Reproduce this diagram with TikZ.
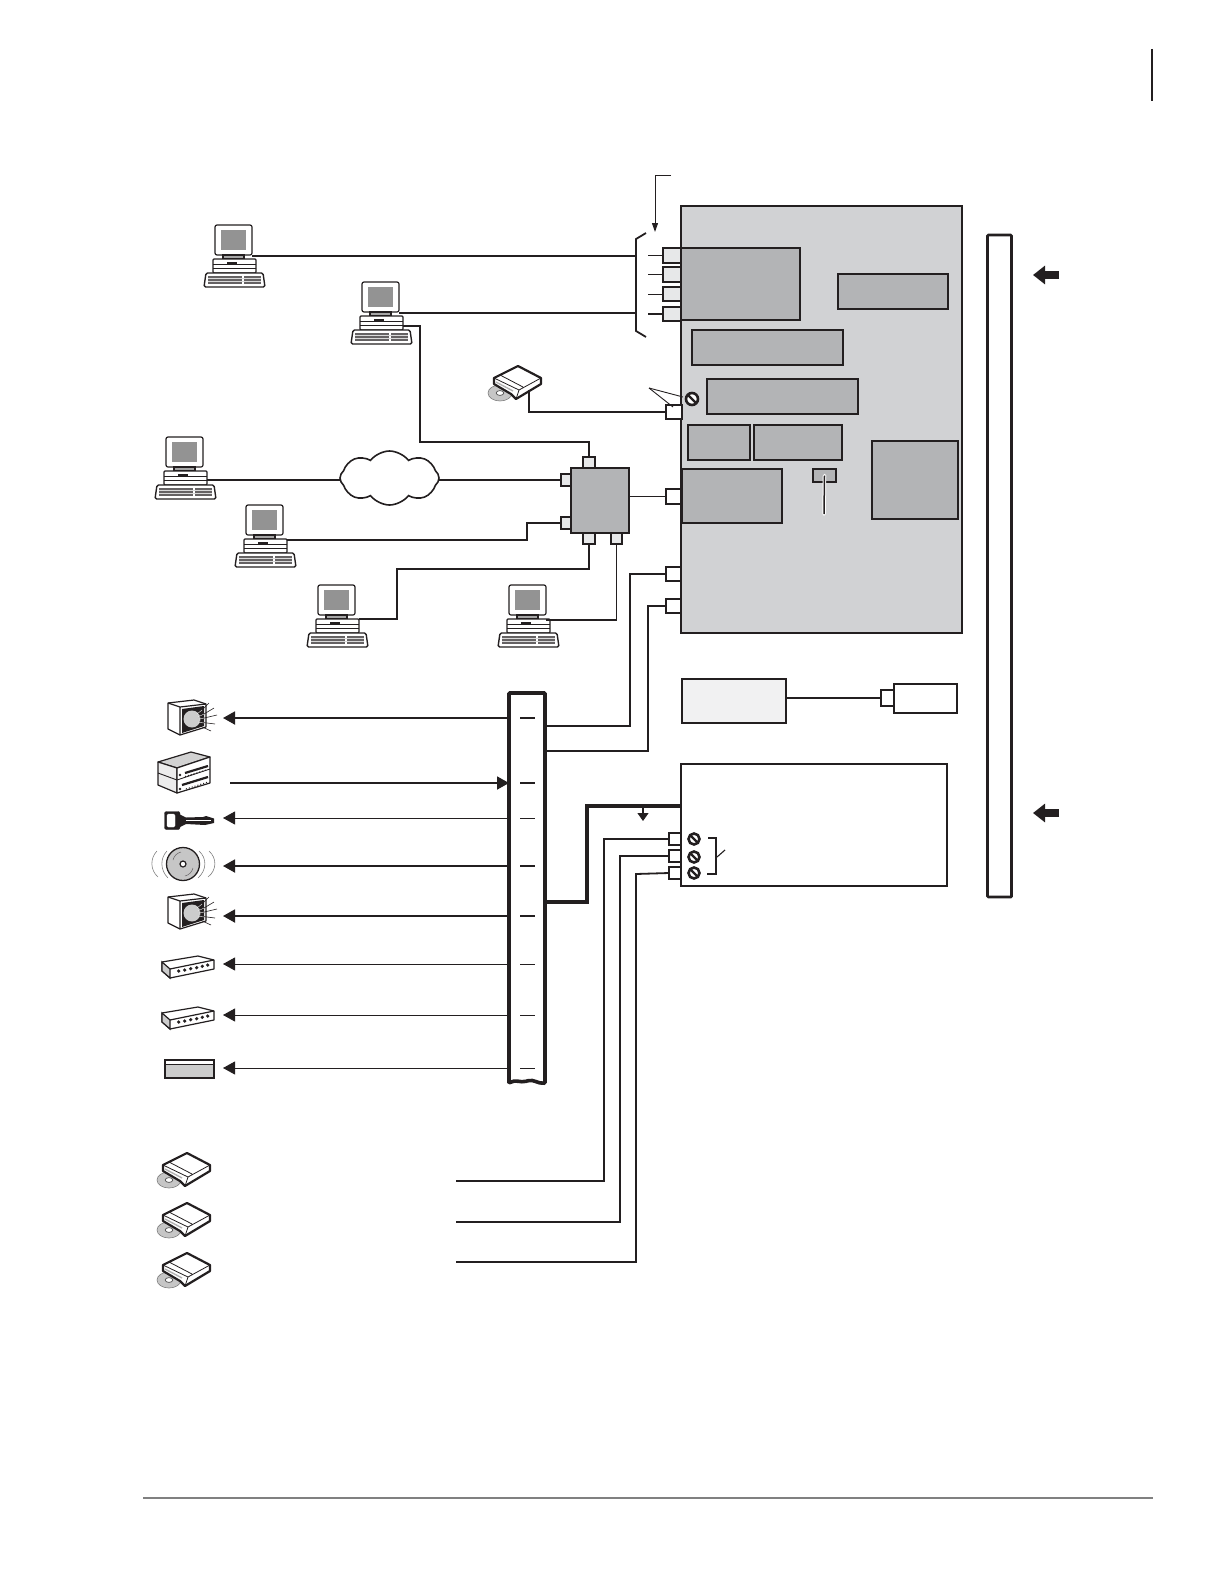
\documentclass[tikz,border=0pt]{standalone}
\usepackage{tikz}
\usetikzlibrary{arrows.meta,shapes.symbols}

\definecolor{panelgray}{HTML}{D1D2D4}
\definecolor{blockgray}{HTML}{B3B4B6}
\definecolor{portgray}{HTML}{E7E8E9}
\definecolor{ink}{HTML}{231F20}

\tikzset{
  blk/.style={draw=ink, line width=1.8pt, inner sep=0pt, outer sep=0pt, anchor=north west},
  panel/.style={blk, fill=panelgray},
  block/.style={blk, fill=blockgray},
  port/.style={blk, fill=portgray},
  wport/.style={blk, fill=white},
  screw/.style={circle, draw=ink, fill=white, line width=2.6pt, minimum size=11pt, inner sep=0pt, outer sep=0pt},
  wire/.style={draw=ink, line width=1.8pt},
  slim/.style={draw=ink, line width=.9pt},
  heavy/.style={draw=ink, line width=3.6pt},
  arr/.style={wire, -{Triangle[length=12pt,width=13pt]}},
  arrslim/.style={slim, -{Triangle[length=12pt,width=13pt]}},
  blockarr/.style={draw=ink, line width=8pt, -{Triangle[length=12pt,width=18pt]}},
  pics/pc/.style={code={
    \draw[ink, line width=1.2pt, fill=white, rounded corners=2pt] (0,0) rectangle (37,30);
    \fill[gray!85!white] (6,5) rectangle (31,25);
    \draw[ink, line width=1.2pt, fill=gray!70] (8,30) rectangle (29,34);
    \draw[ink, line width=1.2pt, fill=white, rounded corners=1pt] (-2,34) rectangle (41,48);
    \draw[ink, line width=.8pt] (-2,39) -- (41,39) (-2,43) -- (41,43);
    \draw[ink, line width=1.2pt] (12,38) -- (22,38);
    \draw[ink, line width=1.4pt, fill=white, rounded corners=1.5pt] (-9,48) -- (48,48) -- (50,62) -- (-11,62) -- cycle;
    \fill[ink!70] (-7,50.5) rectangle (27,58.5);
    \fill[ink!70] (29,50.5) rectangle (46,58.5);
    \draw[white!70!gray, line width=.35pt] (-7,53) -- (46,53) (-7,56) -- (46,56);
    \coordinate (-top) at (37,31);
    \coordinate (-base) at (41,44);
    \coordinate (-low) at (41,55);
  }},
  pics/drive/.style={code={
    \draw[gray, fill=gray!45, line width=.6pt] (-18,27) ellipse (12 and 8);
    \draw[gray!60!black, fill=white, line width=.7pt] (-18,27) ellipse (3.8 and 2.4);
    \draw[ink, line width=2.2pt, fill=white, line join=round] (0,0) -- (23,12) -- (23,18) -- (-2,33) -- (-7,28) -- (-24,18) -- (-24,12) -- cycle;
    \draw[ink, line width=.8pt] (-24,12) -- (1,24) -- (23,12) (1,24) -- (-2,33) (-18,9) -- (5,21);
    \draw[gray!60, line width=1.4pt] (-22,16) -- (-5,25);
    \coordinate (-lead) at (11,24);
  }},
  pics/speaker/.style={code={
    \draw[ink, line width=1.2pt, fill=white, line join=round] (0,0) -- (26,-3) -- (38,1) -- (38,24) -- (12,32) -- (0,26) -- cycle;
    \draw[ink, line width=1.2pt] (0,0) -- (12,4) -- (38,1) (12,4) -- (12,32);
    \fill[ink] (14,6) -- (36,3) -- (36,23) -- (14,30) -- cycle;
    \fill[gray!40] (24,16) circle (8.5);
    \draw[ink, line width=.6pt] (30,11) -- (41,0) (31,14) -- (46,5) (32,16) -- (49,12) (31,19) -- (47,21) (30,22) -- (43,28);
    \draw[white, line width=.4pt] (29,11) -- (34,7) (30,14) -- (36,11) (31,16) -- (36,15) (30,19) -- (36,20);
  }},
  pics/amp/.style={code={
    \draw[ink, line width=1.2pt, fill=gray!35, line join=round] (0,0) -- (33,-10) -- (52,-5) -- (19,6) -- cycle;
    \draw[ink, line width=1.2pt, fill=gray!15, line join=round] (0,0) -- (19,6) -- (19,31) -- (0,23) -- cycle;
    \draw[ink, line width=1.2pt, fill=white, line join=round] (19,6) -- (52,-5) -- (52,21) -- (19,31) -- cycle;
    \draw[ink, line width=.9pt] (0,11) -- (19,18) -- (52,7);
    \draw[ink, line width=2.2pt] (27,11) -- (50,4) (24,23) -- (50,15);
    \draw[ink, line width=1pt, dotted] (27,14.5) -- (50,7.5) (28,27) -- (50,20);
    \fill[ink] (22,13) circle (1.4) (22,27) circle (1.4);
  }},
  pics/hubbox/.style={code={
    \draw[ink, line width=1.2pt, fill=white, line join=round] (0,0) -- (36,-6) -- (52,-2) -- (52,7) -- (8,16) -- (0,9) -- cycle;
    \draw[ink, line width=1.2pt, fill=gray!40] (0,0) -- (8,7) -- (8,16) -- (0,9) -- cycle;
    \draw[ink, line width=1.2pt] (8,7) -- (52,-2);
    \fill[ink] (16.7,9) circle (1.8) (22.7,8) circle (1.8) (28.7,6.7) circle (1.8) (34.7,5.7) circle (1.8) (40.3,4.3) circle (1.8) (45.7,3) circle (1.8);
  }}
}

\begin{document}
\begin{tikzpicture}[x=1pt, y=-1pt]
\useasboundingbox (0,0) rectangle (1224,1584);

% page furniture
\draw[ink, line width=1.1pt] (1152,49) -- (1152,101);
\draw[gray, line width=1.4pt] (143,1498) -- (1153,1498);

% main panel
\node[panel, minimum width=281, minimum height=427] (main) at (681,206) {};
\node[block, minimum width=119, minimum height=72] (cpu) at (681,248) {};
\node[block, minimum width=110, minimum height=35] (mem) at (838,274) {};
\node[block, minimum width=151, minimum height=35] (opta) at (692,330) {};
\node[block, minimum width=151, minimum height=35] (optb) at (707,379) {};
\node[block, minimum width=62, minimum height=35] (optc) at (688,425) {};
\node[block, minimum width=88, minimum height=35] (optd) at (754,425) {};
\node[block, minimum width=100, minimum height=54] (nic) at (682,469) {};
\node[block, minimum width=23, minimum height=13] (chip) at (813,469) {};
\node[block, minimum width=86, minimum height=78] (psu) at (872,441) {};
\draw[white, line width=3.5pt, line cap=round] (chip.center) -- (824,514);
\draw[ink, line width=1.5pt] (chip.center) -- (824,514);

% ports on the panel
\node[port, minimum width=18, minimum height=15] (pa) at (663,248) {};
\node[port, minimum width=18, minimum height=15] (pb) at (663,267) {};
\node[port, minimum width=18, minimum height=14] (pc) at (663,287) {};
\node[port, minimum width=18, minimum height=14] (pd) at (663,307) {};
\node[wport, minimum width=16, minimum height=14] (pe) at (666,405) {};
\node[wport, minimum width=15, minimum height=15] (pf) at (666,489) {};
\node[wport, minimum width=15, minimum height=14] (pg) at (666,567) {};
\node[wport, minimum width=15, minimum height=14] (ph) at (666,599) {};
\node[screw, minimum size=12pt] (sa) at (692,399) {};
\draw[ink, line width=2.4pt] (sa.north west) -- (sa.south east);

% bracket and leader
\coordinate (lead) at (671,175);
\coordinate (brtop) at (636,239);
\coordinate (brbot) at (636,331);
\draw[wire, line width=1pt, -{Triangle[length=9pt,width=6pt]}] (lead) -- (655,175) -- (655,232);
\draw[wire] (646,233) -- (brtop) -- (brbot) -- (646,337);
\draw[slim] (pa.west) -- ++(-15,0);
\draw[wire] (pb.west) -- ++(-15,0);
\draw[slim] (pc.west) -- ++(-15,0);
\draw[wire] (pd.west) -- ++(-15,0);
\coordinate (bra) at (636,256);
\coordinate (brb) at (636,313);

% computers
\pic (pca) at (215,225) {pc};
\pic (pcb) at (362,282) {pc};
\pic (pcc) at (166,437) {pc};
\pic (pcd) at (246,505) {pc};
\pic (pce) at (318,585) {pc};
\pic (pcf) at (509,585) {pc};

\draw[wire] (pca-top) -- (bra);
\draw[wire] (pcb-top |- brb) -- (brb);

% hub and cloud
\node[block, minimum width=58, minimum height=65] (hub) at (571,468) {};
\node[port, minimum width=12, minimum height=11] (hn) at (583,457) {};
\node[port, minimum width=10, minimum height=12] (hw) at (561,474) {};
\node[port, minimum width=10, minimum height=12] (hx) at (561,517) {};
\node[port, minimum width=12, minimum height=11] (hs) at (583,533) {};
\node[port, minimum width=11, minimum height=11] (ht) at (611,533) {};
\node[cloud, cloud puffs=8, cloud puff arc=105, aspect=1.9, draw=ink, fill=white, line width=1.6pt, minimum width=99, minimum height=54, inner sep=0pt, outer sep=0pt] (net) at (389.5,478) {};

\draw[wire] (pcb-base) -| (420,442) -| (hn.north);
\draw[wire] (pcc-base |- hw.west) -- (net.west |- hw.west);
\draw[wire] (net.east |- hw.west) -- (hw.west);
\draw[wire] (pcd-base |- 0,540) -| (527,523) -- (hx.west);
\draw[wire] (pce-base |- 0,619) -| (397,569) -| (hs.south);
\draw[wire] (pcf-top |- 0,620) -| (ht.south);
\draw[wire] (hub.east |- pf.west) -- (pf.west);

% cd drive on the panel
\pic (dra) at (518,366) {drive};
\draw[wire] (dra-lead) |- (pe.west);
\draw[slim] (649,388) -- (683,397);
\draw[slim] (649,388) -- (673,407);

% camera unit
\node[blk, fill=portgray!60, minimum width=104, minimum height=44] (ctrl) at (682,679) {};
\node[wport, minimum width=13, minimum height=16] (cp) at (881,690) {};
\node[blk, fill=white, minimum width=63, minimum height=29] (cam) at (894,684) {};
\draw[wire] (ctrl.east |- cp.west) -- (cp.west);

% lower unit
\node[blk, fill=white, minimum width=266, minimum height=122] (unit) at (681,764) {};
\node[wport, minimum width=12, minimum height=12] (ua) at (669,833) {};
\node[wport, minimum width=12, minimum height=12] (ub) at (669,850) {};
\node[wport, minimum width=12, minimum height=12] (uc) at (669,867) {};
\node[screw] (sb) at (694,839) {};
\node[screw] (sc) at (694,857) {};
\node[screw] (sd) at (694,873) {};
\draw[ink, line width=2.2pt] (sb.north west) -- (sb.south east);
\draw[ink, line width=2.2pt] (sc.north west) -- (sc.south east);
\draw[ink, line width=2.2pt] (sd.north west) -- (sd.south east);
\draw[wire] (708,838) -- (716,838) -- (716,874) -- (707,874);
\draw[wire, line width=1.1pt] (717,857) -- (725,850);

% terminal bar
\node[minimum width=36, minimum height=390, inner sep=0pt, outer sep=0pt, anchor=north west] (bar) at (509,693) {};
\draw[heavy, fill=white, rounded corners=1pt] (bar.south west) -- (bar.north west) -- (bar.north east) -- (bar.south east)
  .. controls (538,1084) and (534,1079) .. (527,1081) .. controls (520,1083) and (516,1079) .. (bar.south west) -- cycle;
\coordinate (ta) at (520,718);
\coordinate (tb) at (520,783);
\coordinate (tc) at (520,818);
\coordinate (td) at (520,866);
\coordinate (te) at (520,916);
\coordinate (tf) at (520,964);
\coordinate (tg) at (520,1015);
\coordinate (th) at (520,1068);
\draw[wire] (ta) -- ++(15,0);
\draw[wire] (tb) -- ++(15,0);
\draw[slim] (tc) -- ++(15,0);
\draw[wire] (td) -- ++(15,0);
\draw[wire] (te) -- ++(15,0);
\draw[slim] (tf) -- ++(15,0);
\draw[slim] (tg) -- ++(15,0);
\draw[slim] (th) -- ++(15,0);

% bar to panel
\draw[wire] (bar.east |- 0,726) -| (630,574) -- (pg.west);
\draw[wire] (bar.east |- 0,751) -| (648,606) -- (ph.west);
\draw[heavy] (bar.east |- 0,902) -| (587,806) -- (unit.west |- 0,806);
\draw[arr, line width=1.1pt, -{Triangle[length=8pt,width=11pt]}] (643,806) -- (643,821);

% devices on the left
\pic (spa) at (168,703) {speaker};
\pic (ampa) at (158,762) {amp};
\pic (hba) at (162,962) {hubbox};
\pic (hbb) at (162,1013) {hubbox};
\pic (spb) at (168,897) {speaker};

\draw[ink, fill=ink, rounded corners=2pt] (164.5,811.5) rectangle (180,829.5);
\draw[white, fill=white, rounded corners=1.5pt] (167,814) rectangle (175,827);
\fill[ink] (180,814.5) -- (186,817.5) -- (203,817) -- (206,816) -- (214,818.5) -- (214,823) -- (205,825) -- (186,824) -- (180,827) -- cycle;
\draw[white, line width=.6pt] (186,820.5) -- (211,820.5);
\coordinate (key) at (223,818);

\node[circle, draw=ink, fill=gray!45, line width=1.3pt, minimum size=33pt, inner sep=0pt] (disc) at (183,864) {};
\node[circle, draw=ink, fill=white, line width=1.2pt, minimum size=6pt, inner sep=0pt] at (disc) {};
\draw[ink!70, line width=.5pt] (173,860) .. controls (174,856) and (177,853) .. (181,852);
\draw[ink!70, line width=.5pt] (193,868) .. controls (192,872) and (189,875) .. (185,876);
\draw[gray, line width=.6pt] (167,851) .. controls (160,858) and (160,870) .. (168,878);
\draw[gray, line width=.6pt] (157,851) .. controls (150,858) and (150,870) .. (158,877);
\draw[gray, line width=.6pt] (199,851) .. controls (207,858) and (207,870) .. (198,878);
\draw[gray, line width=.6pt] (209,851) .. controls (217,858) and (217,870) .. (208,877);

\node[blk, fill=gray!40, minimum width=49, minimum height=18] (strip) at (165,1060) {};
\fill[white] (166,1061) rectangle (213,1064);
\draw[ink, line width=1.6pt] (strip.west |- 0,1064.5) -- (strip.east |- 0,1064.5);

\draw[arr] (bar.west |- ta) -- (223,718);
\draw[arr] (230,783) -- (bar.west |- tb);
\draw[arrslim] (bar.west |- tc) -- (key);
\draw[arr] (bar.west |- td) -- (223,866);
\draw[arr] (bar.west |- te) -- (223,916);
\draw[arrslim] (bar.west |- tf) -- (223,964);
\draw[arrslim] (bar.west |- tg) -- (223,1015);
\draw[arrslim] (bar.west |- th) -- (223,1068);

% drives at the bottom
\pic (drb) at (187,1153) {drive};
\pic (drc) at (187,1203) {drive};
\pic (drd) at (187,1253) {drive};
\coordinate (lna) at (456,1181);
\coordinate (lnb) at (456,1222);
\coordinate (lnc) at (456,1262);
\draw[wire] (lna) -| (604,839) -- (ua.west);
\draw[wire] (lnb) -| (620,856) -- (ub.west);
\draw[wire] (lnc) -| (636,874) -- (uc.west);

% tall bar and block arrows
\node[blk, line width=2.8pt, rounded corners=1pt, fill=white, minimum width=24, minimum height=662] (tall) at (987.5,235) {};
\draw[blockarr] (1059,275) -- (1033,275);
\draw[blockarr] (1059,813) -- (1033,813);
\end{tikzpicture}
\end{document}
